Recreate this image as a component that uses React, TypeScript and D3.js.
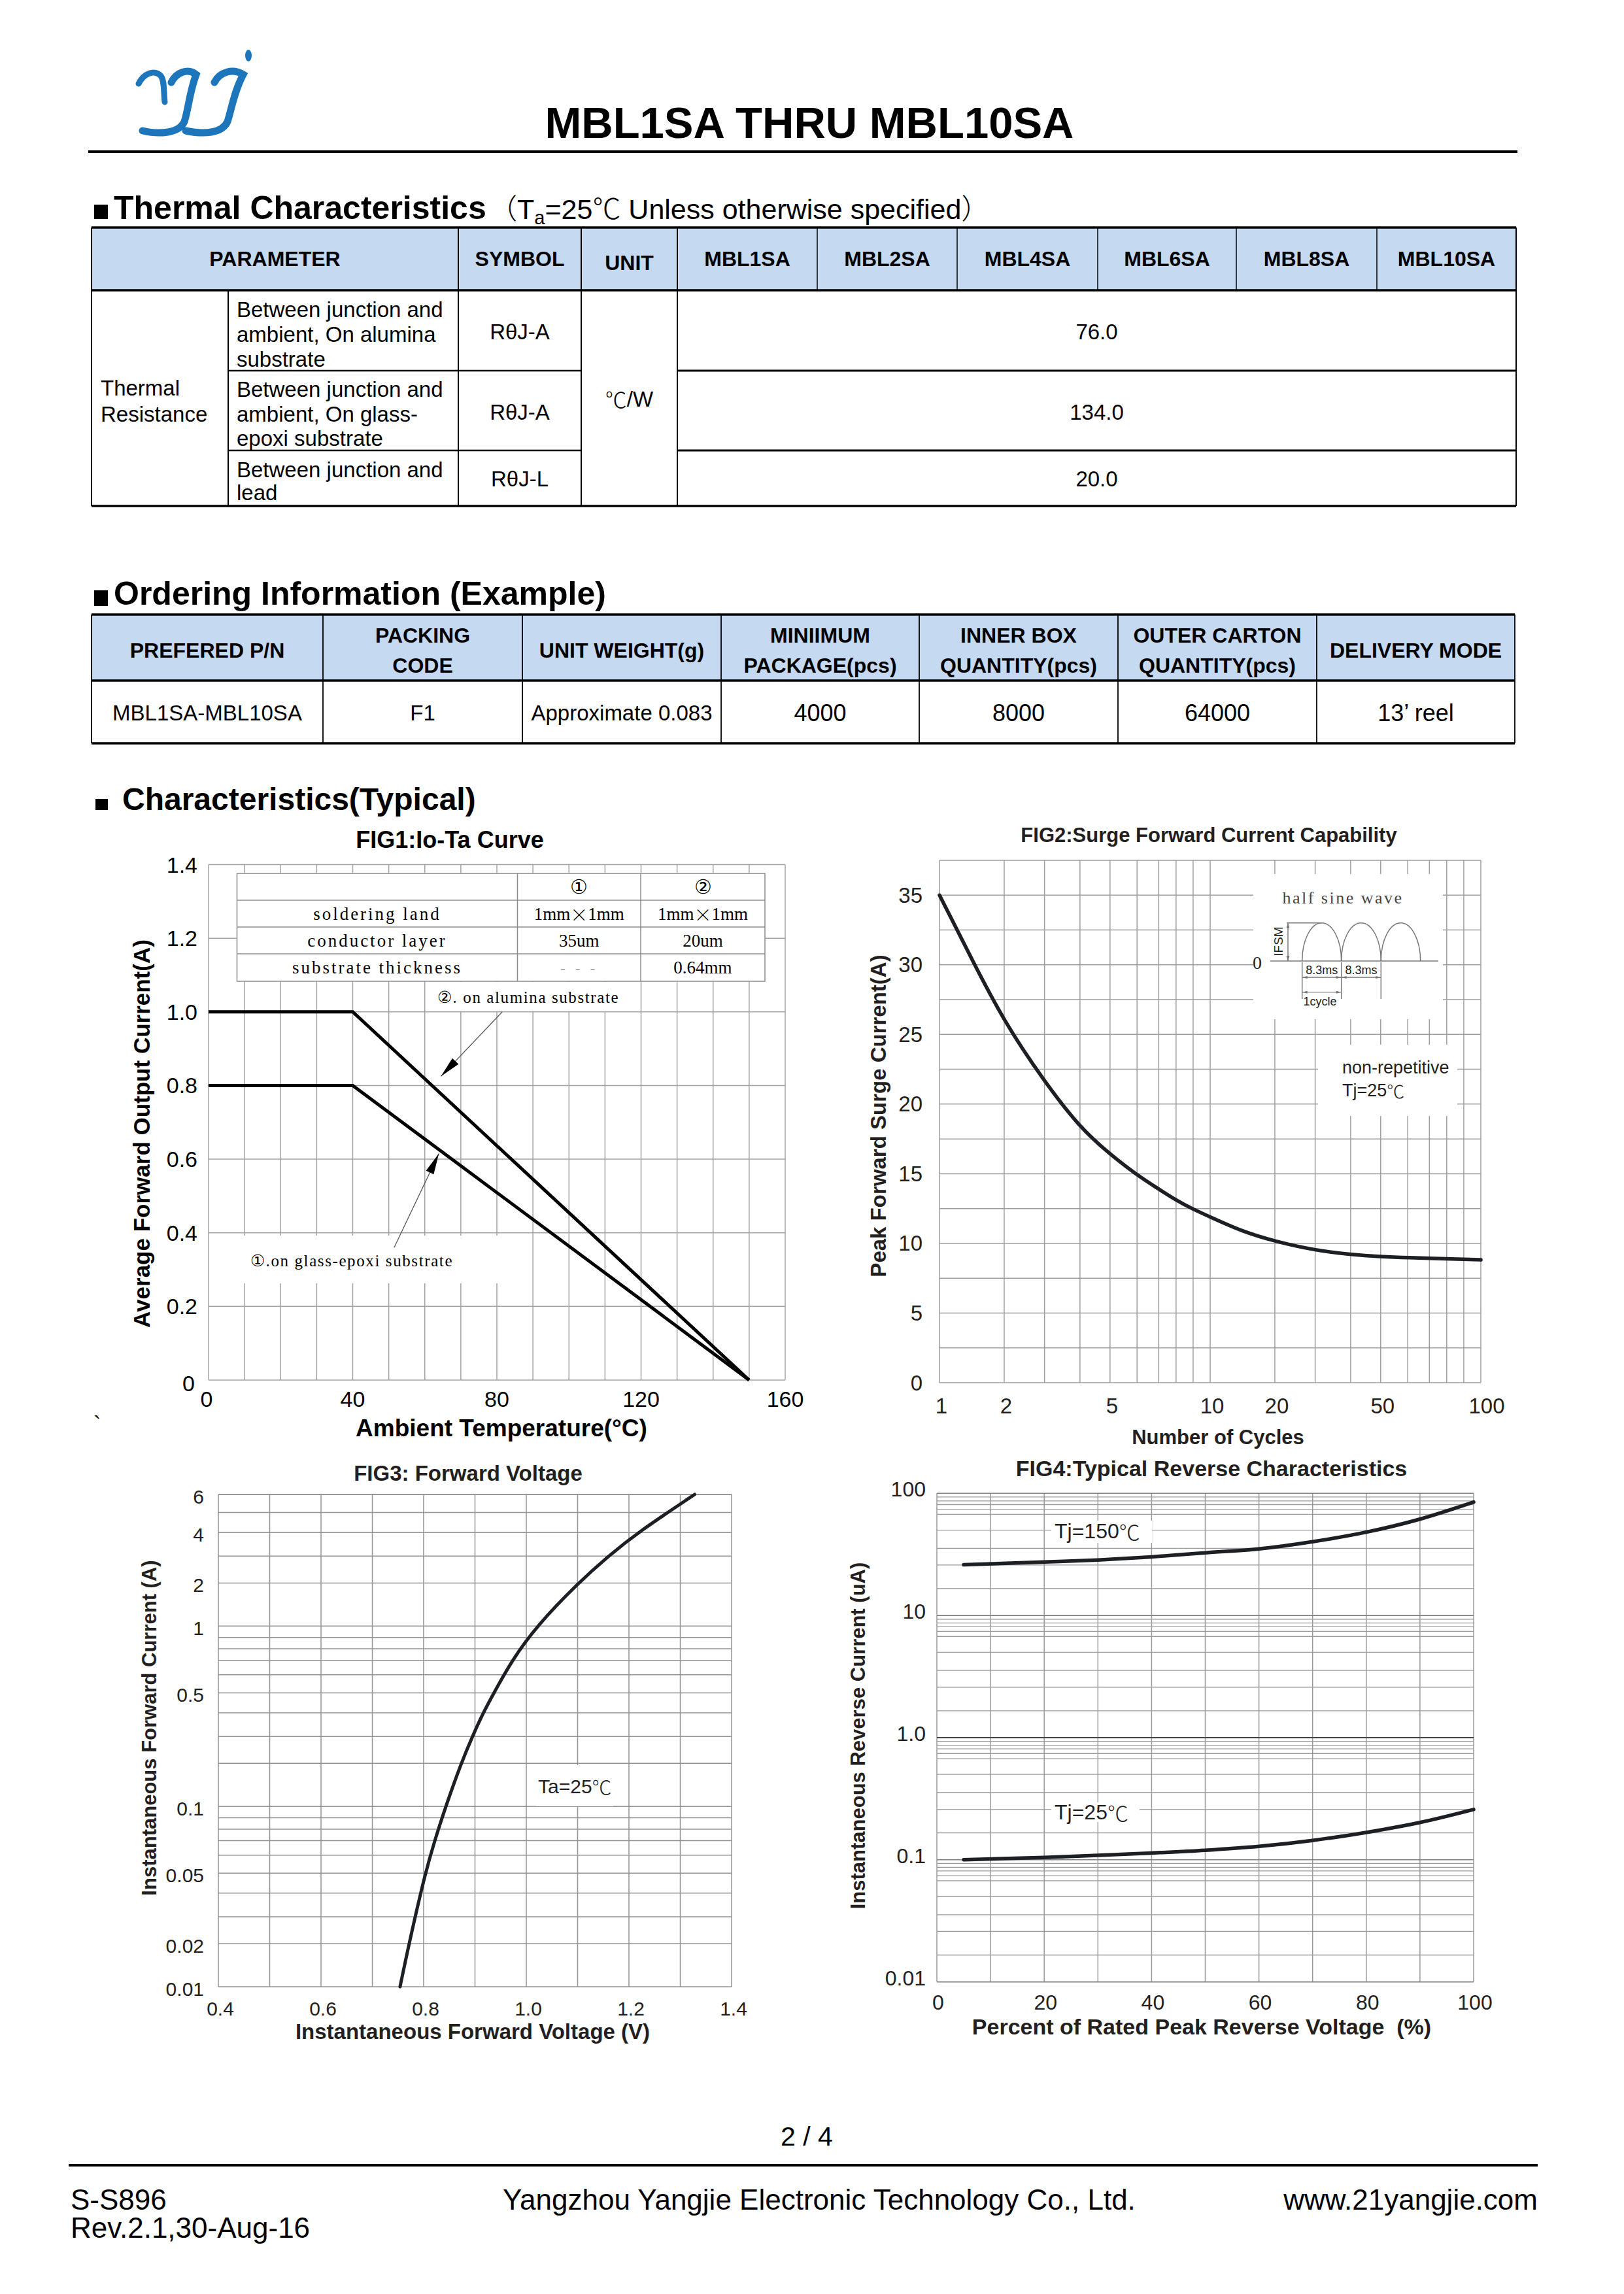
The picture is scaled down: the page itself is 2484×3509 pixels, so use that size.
import React from 'react';
import * as d3 from 'd3';

const W = 2484;
const H = 3509;
const SANS = '"Liberation Sans", Arial, Helvetica, sans-serif';
const SERIF = '"Liberation Serif", "DejaVu Serif", serif';
const CJK = '"Noto Sans CJK SC", "Noto Sans CJK JP", sans-serif';
const INK = '#231f20';

// ---- thermal table
const thermalModels = ['MBL1SA', 'MBL2SA', 'MBL4SA', 'MBL6SA', 'MBL8SA', 'MBL10SA'];
const thermalParams = [
  ['Between junction and', 'ambient, On alumina', 'substrate'],
  ['Between junction and', 'ambient, On glass-', 'epoxi substrate'],
  ['Between junction and', 'lead'],
];
const thermalSymbols = ['RθJ-A', 'RθJ-A', 'RθJ-L'];
const thermalValues = ['76.0', '134.0', '20.0'];

// ---- ordering table
const orderHeaders = [
  ['PREFERED P/N'], ['PACKING', 'CODE'], ['UNIT WEIGHT(g)'], ['MINIIMUM', 'PACKAGE(pcs)'],
  ['INNER BOX', 'QUANTITY(pcs)'], ['OUTER CARTON', 'QUANTITY(pcs)'], ['DELIVERY MODE'],
];
const orderValues = ['MBL1SA-MBL10SA', 'F1', 'Approximate 0.083', '4000', '8000', '64000', '13’ reel'];

// ---- FIG1 Io-Ta
const fig1Temp = [0, 40, 150];
const fig1Alumina = [1.0, 1.0, 0];
const fig1Glass = [0.8, 0.8, 0];
const fig1XTicks = [0, 40, 80, 120, 160];
const fig1YTicks = [0.2, 0.4, 0.6, 0.8, 1.0, 1.2, 1.4];
const fig1Inset = [
  ['', '①', '②'],
  ['soldering land', '1mm×1mm', '1mm×1mm'],
  ['conductor layer', '35um', '20um'],
  ['substrate thickness', '---', '0.64mm'],
];

// ---- FIG2 surge
const fig2Cycles = [1, 1.5, 2, 3, 4, 5, 6, 7, 8, 9, 10, 15, 20, 30, 40, 50, 60, 80, 100];
const fig2Current = [35.0, 30.4, 25.9, 21.6, 18.3, 16.4, 14.9, 13.9, 13.1, 12.45, 11.9, 10.85, 10.15, 9.5, 9.2, 9.05, 8.97, 8.9, 8.82];
const fig2XTicks = [1, 2, 5, 10, 20, 50, 100];
const fig2YTicks = [0, 5, 10, 15, 20, 25, 30, 35];

// ---- FIG3 forward voltage
const fig3Voltage = [0.754, 0.7715, 0.803, 0.8215, 0.843, 0.873, 0.895, 0.916, 0.937, 0.972, 1.02, 1.101, 1.16, 1.217, 1.328];
const fig3Current = [0.01, 0.02, 0.05, 0.07, 0.1, 0.2, 0.3, 0.4, 0.5, 0.7, 1, 2, 3, 4, 6];
const fig3XTicks = [0.4, 0.6, 0.8, 1.0, 1.2, 1.4];
const fig3YTicks = [6, 4, 2, 1, 0.5, 0.1, 0.05, 0.02, 0.01];

// ---- FIG4 reverse
const fig4Percent = [5, 20, 30, 40, 50, 60, 70, 80, 90, 100];
const fig4Hot = [26.0, 27.4, 28.5, 30.2, 32.6, 35.1, 40.2, 48.1, 61.5, 84.8];
const fig4Room = [0.1, 0.1045, 0.1086, 0.1136, 0.1197, 0.1288, 0.144, 0.1675, 0.2018, 0.258];
const fig4YTicks: [number, string][] = [[100, '100'], [10, '10'], [1, '1.0'], [0.1, '0.1'], [0.01, '0.01']];
const fig4Minor = [1.66, 2.59, 3.55, 5, 6.73, 7.41, 8.09, 8.67, 9.33];

// datasheet log paper: mantissa positions inside one decade
const MANTISSA = [1, 2, 3, 4, 5, 6, 7, 8, 9];
const PAPER_FRAC = [0, 0.239, 0.388, 0.519, 0.63, 0.73, 0.81, 0.874, 0.937];

function paperValues(lo: number, hi: number) {
  const k0 = Math.floor(Math.log10(lo) + 1e-9);
  const k1 = Math.ceil(Math.log10(hi) - 1e-9);
  const vals: number[] = [];
  for (let k = k0; k < k1; k++) MANTISSA.forEach(m => vals.push(+(m * Math.pow(10, k)).toPrecision(6)));
  vals.push(Math.pow(10, k1));
  return { vals, k0, k1 };
}

function paperLog(lo: number, hi: number, r0: number, r1: number) {
  const { vals, k0, k1 } = paperValues(lo, hi);
  const pos: number[] = [];
  for (let k = k0; k < k1; k++) PAPER_FRAC.forEach(f => pos.push(k + f));
  pos.push(k1);
  const toPaper = d3.scaleLinear(vals, pos);
  const toPx = d3.scaleLinear([toPaper(lo), toPaper(hi)], [r0, r1]);
  return (v: number) => toPx(toPaper(v));
}

function arrowHead(x1: number, y1: number, x2: number, y2: number, len: number, wid: number) {
  const a = Math.atan2(y2 - y1, x2 - x1);
  const bx = x2 - len * Math.cos(a), by = y2 - len * Math.sin(a);
  const px = -Math.sin(a) * wid / 2, py = Math.cos(a) * wid / 2;
  return `${x2},${y2} ${bx + px},${by + py} ${bx - px},${by - py}`;
}

// put the degree sign and full-width marks in the CJK face, like the original sheet
function cjk(s: string) {
  return s.split(/([℃×（）])/).filter(p => p !== '').map((p, i) =>
    /[℃×（）]/.test(p)
      ? <tspan key={i} fontFamily={CJK} fontWeight={300}>{p}</tspan>
      : <React.Fragment key={i}>{p}</React.Fragment>
  );
}

function Fig1() {
  const x = d3.scaleLinear([0, 160], [319, 1201]);
  const y = d3.scaleLinear([0, 1.4], [2111, 1322.5]);
  const line = d3.line<number>().x((_, i) => x(fig1Temp[i])).y(d => y(d));
  const grid = '#a3a3a3';
  const tx = [362.5, 791.5, 980, 1170];
  const ty = [1336, 1377, 1418, 1459, 1501];
  const al = { t: [x(81.5), y(1.0)], h: [x(64.5), y(0.825)] };
  const gl = { t: [x(51.5), y(0.36)], h: [x(63.9), y(0.615)] };
  return (
    <g>
      <text x={688} y={1284} fontSize={36} fontWeight="bold" textAnchor="middle" dominantBaseline="central">FIG1:Io-Ta Curve</text>
      {d3.range(0, 161, 10).map(v => (
        <line key={'v' + v} x1={x(v)} x2={x(v)} y1={y(0)} y2={y(1.4)} stroke={grid} strokeWidth={1.5} />
      ))}
      {d3.range(8).map(i => i * 0.2).map(v => (
        <line key={'h' + v} x1={x(0)} x2={x(160)} y1={y(v)} y2={y(v)} stroke={grid} strokeWidth={1.5} />
      ))}
      <rect x={654} y={ty[4] + 1} width={320} height={y(1.0) - ty[4] - 2} fill="#fff" />
      <rect x={x(0) + 1} y={1890} width={442} height={73} fill="#fff" />
      {/* inset table */}
      <rect x={tx[0]} y={ty[0]} width={tx[3] - tx[0]} height={ty[4] - ty[0]} fill="#fff" stroke="#8c8c8c" strokeWidth={1.5} />
      {ty.slice(1, 4).map(v => <line key={'r' + v} x1={tx[0]} x2={tx[3]} y1={v} y2={v} stroke="#8c8c8c" strokeWidth={1.5} />)}
      {tx.slice(1, 3).map(v => <line key={'c' + v} x1={v} x2={v} y1={ty[0]} y2={ty[4]} stroke="#8c8c8c" strokeWidth={1.5} />)}
      {fig1Inset.map((row, r) => row.map((cell, c) => {
        const cx = (tx[c] + tx[c + 1]) / 2, cy = (ty[r] + ty[r + 1]) / 2;
        if (c === 0) return <text key={r + '-' + c} x={cx} y={cy} fontSize={27} fontFamily={SERIF} letterSpacing={3} textAnchor="middle" dominantBaseline="central">{cell}</text>;
        if (cell === '---') return <text key={r + '-' + c} x={cx} y={cy} fontSize={24} fill="#aaa" letterSpacing={4} textAnchor="middle" dominantBaseline="central">- - -</text>;
        return <text key={r + '-' + c} x={cx} y={cy} fontSize={r === 0 ? 30 : 27} fontFamily={SERIF} textAnchor="middle" dominantBaseline="central">{cjk(cell)}</text>;
      }))}
      <path d={line(fig1Alumina) || ''} fill="none" stroke="#000" strokeWidth={5} />
      <path d={line(fig1Glass) || ''} fill="none" stroke="#000" strokeWidth={5} />
      {/* annotations */}
      <text x={669} y={1525} fontSize={25} fontFamily={SERIF} letterSpacing={1.6} dominantBaseline="central">②. on alumina substrate</text>
      <text x={383} y={1928} fontSize={25} fontFamily={SERIF} letterSpacing={1.6} dominantBaseline="central">①.on glass-epoxi substrate</text>
      <line x1={al.t[0]} y1={al.t[1]} x2={al.h[0]} y2={al.h[1]} stroke="#555" strokeWidth={1.3} />
      <polygon points={arrowHead(al.t[0], al.t[1], al.h[0], al.h[1], 32, 13)} fill="#000" />
      <line x1={gl.t[0]} y1={gl.t[1]} x2={gl.h[0]} y2={gl.h[1]} stroke="#555" strokeWidth={1.3} />
      <polygon points={arrowHead(gl.t[0], gl.t[1], gl.h[0], gl.h[1], 32, 13)} fill="#000" />
      {/* ticks */}
      {fig1YTicks.map(v => (
        <text key={'yt' + v} x={302} y={y(v)} fontSize={34} textAnchor="end" dominantBaseline="central">{v.toFixed(1)}</text>
      ))}
      <text x={298} y={y(0) + 5} fontSize={34} textAnchor="end" dominantBaseline="central">0</text>
      {fig1XTicks.map(v => (
        <text key={'xt' + v} x={x(v) - (v === 0 ? 3 : 0)} y={2140} fontSize={34} textAnchor="middle" dominantBaseline="central">{v}</text>
      ))}
      <text x={767} y={2184} fontSize={37} fontWeight="bold" textAnchor="middle" dominantBaseline="central">Ambient Temperature(°C)</text>
      <text transform="translate(216,1734) rotate(-90)" fontSize={35} fontWeight="bold" textAnchor="middle" dominantBaseline="central">Average Forward Output Current(A)</text>
      <text x={143} y={2190} fontSize={34}>`</text>
    </g>
  );
}

function Fig2() {
  const x = paperLog(1, 100, 1437, 2265);
  const y = d3.scaleLinear([0, 37.5], [2115, 1316]);
  const line = d3.line<number>().x((_, i) => x(fig2Cycles[i])).y(d => y(d)).curve(d3.curveBasis);
  const grid = '#9d9d9d';
  const xs = paperValues(1, 100).vals;
  const base = 1470, peak = 1411.7;
  const arcs = [1991.7, 2051.7, 2112.3, 2172.7];
  const thin = '#777';
  return (
    <g fill={INK}>
      <text x={1849} y={1277} fontSize={31} fontWeight="bold" textAnchor="middle" dominantBaseline="central">FIG2:Surge Forward Current Capability</text>
      {xs.map(v => <line key={'v' + v} x1={x(v)} x2={x(v)} y1={y(0)} y2={y(37.5)} stroke={grid} strokeWidth={1.5} />)}
      {d3.range(16).map(i => i * 2.5).map(v => (
        <line key={'h' + v} x1={x(1)} x2={x(100)} y1={y(v)} y2={y(v)} stroke={grid} strokeWidth={1.5} />
      ))}
      <rect x={1917} y={1337} width={290} height={222} fill="#fff" />
      <rect x={2016} y={1598} width={213} height={109} fill="#fff" />
      {/* half sine wave sketch */}
      <text x={2054} y={1373} fontSize={26} fontFamily={SERIF} letterSpacing={2.5} fill="#444" textAnchor="middle" dominantBaseline="central">half sine wave</text>
      <line x1={1943} x2={2200} y1={base} y2={base} stroke={thin} strokeWidth={1.5} />
      {arcs.slice(0, 3).map((a, i) => (
        <path key={'arc' + i} d={`M${a},${base} A${(arcs[i + 1] - a) / 2},${base - peak} 0 0 1 ${arcs[i + 1]},${base}`} fill="none" stroke={thin} strokeWidth={1.5} />
      ))}
      <line x1={1968} x2={2021.7} y1={peak} y2={peak} stroke={thin} strokeWidth={1.5} />
      <line x1={1970} x2={1970} y1={peak} y2={base} stroke={thin} strokeWidth={1.5} />
      <polygon points={arrowHead(1970, base, 1970, peak, 8, 5)} fill={thin} />
      <polygon points={arrowHead(1970, peak, 1970, base, 8, 5)} fill={thin} />
      <text transform="translate(1955,1440) rotate(-90)" fontSize={19} textAnchor="middle" dominantBaseline="central">IFSM</text>
      <text x={1923} y={1472} fontSize={28} fontFamily={SERIF} textAnchor="middle" dominantBaseline="central">0</text>
      {arcs.slice(0, 3).map(a => <line key={'tk' + a} x1={a} x2={a} y1={base + 2} y2={1528} stroke={thin} strokeWidth={1.5} />)}
      {[0, 1].map(i => (
        <g key={'dim' + i}>
          <line x1={arcs[i]} x2={arcs[i + 1]} y1={1495} y2={1495} stroke={thin} strokeWidth={1.3} />
          <polygon points={arrowHead(arcs[i + 1], 1495, arcs[i], 1495, 8, 4)} fill={thin} />
          <polygon points={arrowHead(arcs[i], 1495, arcs[i + 1], 1495, 8, 4)} fill={thin} />
          <text x={(arcs[i] + arcs[i + 1]) / 2} y={1484} fontSize={18} textAnchor="middle" dominantBaseline="central">8.3ms</text>
        </g>
      ))}
      <line x1={arcs[0]} x2={arcs[1]} y1={1517.7} y2={1517.7} stroke={thin} strokeWidth={1.3} />
      <polygon points={arrowHead(arcs[1], 1517.7, arcs[0], 1517.7, 8, 4)} fill={thin} />
      <polygon points={arrowHead(arcs[0], 1517.7, arcs[1], 1517.7, 8, 4)} fill={thin} />
      <text x={2019} y={1532} fontSize={18} textAnchor="middle" dominantBaseline="central">1cycle</text>
      <text x={2053} y={1633} fontSize={27} dominantBaseline="central">non-repetitive</text>
      <text x={2053} y={1668} fontSize={27} dominantBaseline="central">{cjk('Tj=25℃')}</text>
      <path d={line(fig2Current) || ''} fill="none" stroke="#1c1f24" strokeWidth={5.5} strokeLinecap="round" />
      {fig2YTicks.map(v => (
        <text key={'yt' + v} x={1411} y={y(v)} fontSize={33} textAnchor="end" dominantBaseline="central">{v}</text>
      ))}
      {fig2XTicks.map(v => (
        <text key={'xt' + v} x={x(v) + (v === 100 ? 9 : 3)} y={2150} fontSize={33} textAnchor="middle" dominantBaseline="central">{v}</text>
      ))}
      <text x={1863} y={2198} fontSize={31} fontWeight="bold" textAnchor="middle" dominantBaseline="central">Number of Cycles</text>
      <text transform="translate(1343,1707) rotate(-90)" fontSize={33} fontWeight="bold" textAnchor="middle" dominantBaseline="central">Peak Forward Surge Current(A)</text>
    </g>
  );
}

function Fig3() {
  const x = d3.scaleLinear([0.4, 1.4], [334, 1119]);
  const y = paperLog(0.01, 6, 3039, 2286);
  const line = d3.line<number>().x((_, i) => x(fig3Voltage[i])).y(d => y(d)).curve(d3.curveBasis);
  const grid = '#929292';
  const ys = paperValues(0.01, 6).vals.filter(v => v <= 6);
  return (
    <g fill={INK}>
      <text x={716} y={2253} fontSize={33} fontWeight="bold" textAnchor="middle" dominantBaseline="central">FIG3: Forward Voltage</text>
      {d3.range(11).map(i => 0.4 + i * 0.1).map(v => (
        <line key={'v' + v} x1={x(v)} x2={x(v)} y1={y(0.01)} y2={y(6)} stroke={grid} strokeWidth={1.5} />
      ))}
      {ys.concat([6]).map(v => (
        <line key={'h' + v} x1={x(0.4)} x2={x(1.4)} y1={y(v)} y2={y(v)} stroke={grid} strokeWidth={1.5} />
      ))}
      <rect x={820} y={2700} width={118} height={63} fill="#fff" />
      <text x={823} y={2732} fontSize={30} dominantBaseline="central">{cjk('Ta=25℃')}</text>
      <path d={line(fig3Current) || ''} fill="none" stroke="#1c1f24" strokeWidth={5} strokeLinecap="round" />
      {fig3YTicks.map(v => (
        <text key={'yt' + v} x={312} y={y(v) + 3} fontSize={30} textAnchor="end" dominantBaseline="central">{v}</text>
      ))}
      {fig3XTicks.map(v => (
        <text key={'xt' + v} x={x(v) + 3} y={3072} fontSize={30} textAnchor="middle" dominantBaseline="central">{v.toFixed(1)}</text>
      ))}
      <text x={723} y={3107} fontSize={33} fontWeight="bold" textAnchor="middle" dominantBaseline="central">Instantaneous Forward Voltage (V)</text>
      <text transform="translate(228,2643) rotate(-90)" fontSize={31} fontWeight="bold" textAnchor="middle" dominantBaseline="central">Instantaneous Forward Current (A)</text>
    </g>
  );
}

function Fig4() {
  const x = d3.scaleLinear([0, 100], [1433, 2254]);
  const y = d3.scaleLog([0.01, 100], [3031.6, 2284.3]);
  const line = d3.line<number>().x((_, i) => x(fig4Percent[i])).y(d => y(d)).curve(d3.curveMonotoneX);
  const grid = '#9a9a9a';
  const minor: number[] = [];
  [0.01, 0.1, 1, 10].forEach(dec => fig4Minor.forEach(m => minor.push(dec * m)));
  return (
    <g fill={INK}>
      <text x={1853} y={2246} fontSize={34} fontWeight="bold" textAnchor="middle" dominantBaseline="central">FIG4:Typical Reverse Characteristics</text>
      {d3.range(0, 101, 10).map(v => (
        <line key={'v' + v} x1={x(v)} x2={x(v)} y1={y(0.01)} y2={y(100)} stroke={grid} strokeWidth={1.5} />
      ))}
      {minor.map(v => (
        <line key={'m' + v} x1={x(0)} x2={x(100)} y1={y(v)} y2={y(v)} stroke={grid} strokeWidth={1.3} />
      ))}
      {[0.01, 0.1, 1, 10, 100].map(v => (
        <line key={'d' + v} x1={x(0)} x2={x(100)} y1={y(v)} y2={y(v)} stroke={v === 1 ? '#444' : '#808080'} strokeWidth={v === 1 ? 2 : 1.6} />
      ))}
      <rect x={1608} y={2326} width={154} height={34} fill="#fff" />
      <rect x={1608} y={2757} width={135} height={30} fill="#fff" />
      <text x={1613} y={2342} fontSize={32} dominantBaseline="central">{cjk('Tj=150℃')}</text>
      <text x={1613} y={2772} fontSize={32} dominantBaseline="central">{cjk('Tj=25℃')}</text>
      <path d={line(fig4Hot) || ''} fill="none" stroke="#1c1f24" strokeWidth={5.5} strokeLinecap="round" />
      <path d={line(fig4Room) || ''} fill="none" stroke="#1c1f24" strokeWidth={5.5} strokeLinecap="round" />
      {fig4YTicks.map(([v, s]) => (
        <text key={'yt' + v} x={1416} y={y(v) - 6} fontSize={32} textAnchor="end" dominantBaseline="central">{s}</text>
      ))}
      {d3.range(0, 101, 20).map(v => (
        <text key={'xt' + v} x={x(v) + 2} y={3063} fontSize={32} textAnchor="middle" dominantBaseline="central">{v}</text>
      ))}
      <text x={1838} y={3100} fontSize={34} fontWeight="bold" textAnchor="middle" dominantBaseline="central" xmlSpace="preserve">Percent of Rated Peak Reverse Voltage  (%)</text>
      <text transform="translate(1312,2655) rotate(-90)" fontSize={31} fontWeight="bold" textAnchor="middle" dominantBaseline="central">Instantaneous Reverse Current (uA)</text>
    </g>
  );
}

export default function App() {
  const tCols = [140, 349, 701, 889, 1036, 1250, 1464, 1679, 1891, 2106, 2319];
  const tRows = [348, 444, 567, 689, 774];
  const paramLines = [[473, 511, 549], [595, 633, 670], [718, 753]];
  const oCols = [140, 494, 799, 1103, 1406, 1710, 2014, 2317];
  const oRows = [940, 1041, 1137];
  const headBlue = '#c5d9f1';
  return (
    <svg width={W} height={H} viewBox={`0 0 ${W} ${H}`} style={{ position: 'absolute', left: 0, top: 0, background: '#fff' }} fontFamily={SANS}>
      <rect width={W} height={H} fill="#fff" />
      {/* logo */}
      <g fill="none" stroke="#1d76bb" strokeLinecap="round">
        <path d="M212,128 C220,112 236,106 246,116 C252,124 250,140 252,156" strokeWidth={9} />
        <path d="M262,126 C270,110 288,104 300,114 C290,140 288,168 282,186 C274,204 244,206 218,200" strokeWidth={11} />
        <path d="M328,126 C336,110 356,104 372,114 C358,140 354,168 348,186 C340,204 312,206 284,200" strokeWidth={11} />
      </g>
      <ellipse cx={380} cy={85} rx={5} ry={9} fill="#1d76bb" />
      <text x={1238} y={211} fontSize={67} fontWeight="bold" textAnchor="middle">MBL1SA THRU MBL10SA</text>
      <line x1={135} x2={2321} y1={232} y2={232} stroke="#000" strokeWidth={4} />

      {/* thermal characteristics */}
      <rect x={144} y={313} width={21} height={22} fill="#000" />
      <text x={174} y={335} fontSize={50} fontWeight="bold">Thermal Characteristics</text>
      <text x={748} y={335} fontSize={43}>{cjk('（')}T<tspan fontSize={29} dy={8}>a</tspan><tspan dy={-8}>=25</tspan>{cjk('℃ Unless otherwise specified）')}</text>
      <rect x={tCols[0]} y={tRows[0]} width={tCols[10] - tCols[0]} height={tRows[1] - tRows[0]} fill={headBlue} />
      <g fontSize={32} fontWeight="bold" textAnchor="middle" dominantBaseline="central">
        <text x={(tCols[0] + tCols[2]) / 2} y={396}>PARAMETER</text>
        <text x={(tCols[2] + tCols[3]) / 2} y={396}>SYMBOL</text>
        <text x={(tCols[3] + tCols[4]) / 2} y={402}>UNIT</text>
        {thermalModels.map((m, i) => <text key={m} x={(tCols[4 + i] + tCols[5 + i]) / 2} y={396}>{m}</text>)}
      </g>
      <g fontSize={33}>
        <text x={154} y={593} dominantBaseline="central">Thermal</text>
        <text x={154} y={633} dominantBaseline="central">Resistance</text>
        {thermalParams.map((lines, r) => lines.map((l, j) => (
          <text key={r + '-' + j} x={362} y={paramLines[r][j]} dominantBaseline="central">{l}</text>
        )))}
        {thermalSymbols.map((s, r) => (
          <text key={'s' + r} x={(tCols[2] + tCols[3]) / 2} y={r === 2 ? 732 : (tRows[r + 1] + tRows[r + 2]) / 2 + 2} textAnchor="middle" dominantBaseline="central">{s}</text>
        ))}
        <text x={(tCols[3] + tCols[4]) / 2} y={610} textAnchor="middle" dominantBaseline="central">{cjk('℃/W')}</text>
        {thermalValues.map((v, r) => (
          <text key={'v' + r} x={(tCols[4] + tCols[10]) / 2} y={r === 2 ? 732 : (tRows[r + 1] + tRows[r + 2]) / 2 + 2} textAnchor="middle" dominantBaseline="central">{v}</text>
        ))}
      </g>
      <g stroke="#000">
        {[tRows[0], tRows[1], tRows[4]].map(v => <line key={'tr' + v} x1={tCols[0]} x2={tCols[10]} y1={v} y2={v} strokeWidth={3.5} />)}
        {[tRows[2], tRows[3]].map(v => (
          <g key={'rr' + v}>
            <line x1={tCols[1]} x2={tCols[3]} y1={v} y2={v} strokeWidth={2.5} />
            <line x1={tCols[4]} x2={tCols[10]} y1={v} y2={v} strokeWidth={3} />
          </g>
        ))}
        {[0, 2, 3, 4, 10].map(i => <line key={'tc' + i} x1={tCols[i]} x2={tCols[i]} y1={tRows[0]} y2={tRows[4]} strokeWidth={2} />)}
        <line x1={tCols[1]} x2={tCols[1]} y1={tRows[1]} y2={tRows[4]} strokeWidth={2} />
        {[5, 6, 7, 8, 9].map(i => <line key={'hc' + i} x1={tCols[i]} x2={tCols[i]} y1={tRows[0]} y2={tRows[1]} strokeWidth={1.5} />)}
      </g>

      {/* ordering information */}
      <rect x={144} y={903} width={21} height={24} fill="#000" />
      <text x={174} y={925} fontSize={50} fontWeight="bold">Ordering Information (Example)</text>
      <rect x={oCols[0]} y={oRows[0]} width={oCols[7] - oCols[0]} height={oRows[1] - oRows[0]} fill={headBlue} />
      <g fontSize={32} fontWeight="bold" textAnchor="middle" dominantBaseline="central">
        {orderHeaders.map((h, i) => h.length === 1
          ? <text key={'oh' + i} x={(oCols[i] + oCols[i + 1]) / 2} y={995}>{h[0]}</text>
          : h.map((l, j) => <text key={'oh' + i + j} x={(oCols[i] + oCols[i + 1]) / 2} y={j === 0 ? 972 : 1018}>{l}</text>))}
      </g>
      <g textAnchor="middle" dominantBaseline="central">
        {orderValues.map((v, i) => (
          <text key={'ov' + i} x={(oCols[i] + oCols[i + 1]) / 2} y={1090} fontSize={i < 3 ? 33 : 36}>{v}</text>
        ))}
      </g>
      <g stroke="#000">
        {oRows.map(v => <line key={'or' + v} x1={oCols[0]} x2={oCols[7]} y1={v} y2={v} strokeWidth={3.5} />)}
        {oCols.map(v => <line key={'oc' + v} x1={v} x2={v} y1={oRows[0]} y2={oRows[2]} strokeWidth={1.8} />)}
      </g>

      {/* characteristics */}
      <rect x={146} y={1222} width={19} height={17} fill="#000" />
      <text x={187} y={1239} fontSize={48} fontWeight="bold">Characteristics(Typical)</text>
      <Fig1 />
      <Fig2 />
      <Fig3 />
      <Fig4 />

      {/* footer */}
      <text x={1234} y={3282} fontSize={41} textAnchor="middle">2 / 4</text>
      <line x1={105} x2={2352} y1={3312} y2={3312} stroke="#000" strokeWidth={4} />
      <text x={108} y={3380} fontSize={44}>S-S896</text>
      <text x={108} y={3423} fontSize={44}>Rev.2.1,30-Aug-16</text>
      <text x={769} y={3380} fontSize={44}>Yangzhou Yangjie Electronic Technology Co., Ltd.</text>
      <text x={2352} y={3380} fontSize={44} textAnchor="end">www.21yangjie.com</text>
    </svg>
  );
}
